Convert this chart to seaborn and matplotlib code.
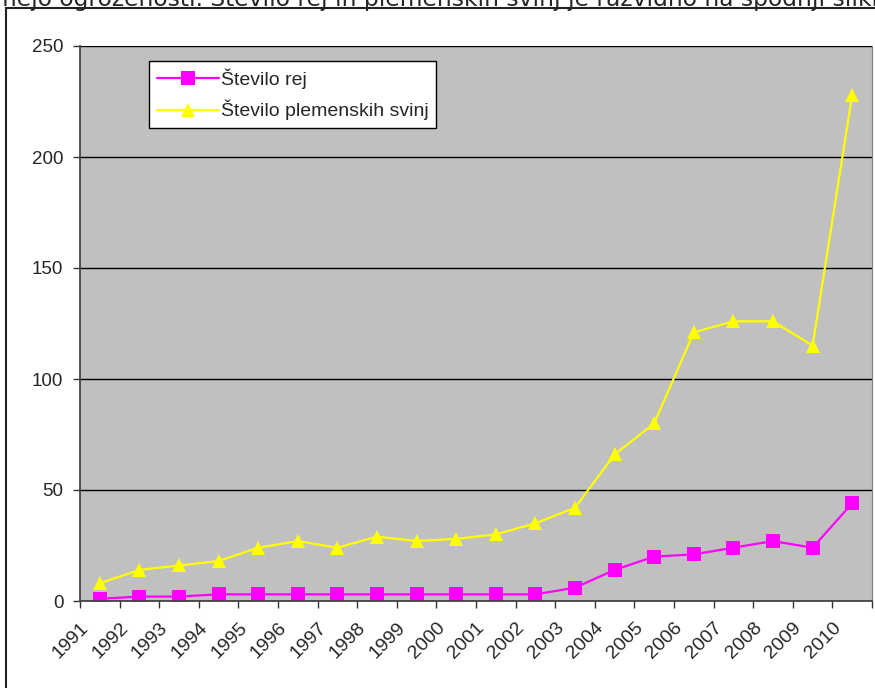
import numpy as np
import pandas as pd
import matplotlib
matplotlib.use("Agg")
import matplotlib.pyplot as plt
import seaborn as sns
from matplotlib.patches import Rectangle

years = list(range(1991, 2011))
rej = [1, 2, 2, 3, 3, 3, 3, 3, 3, 3, 3, 3, 6, 14, 20, 21, 24, 27, 24, 44]
svinje = [8, 14, 16, 18, 24, 27, 24, 29, 27, 28, 30, 35, 42, 66, 80, 121, 126, 126, 115, 228]
series_names = ["Število rej", "Število plemenskih svinj"]
y_ticks = [0, 50, 100, 150, 200, 250]

# points sit in the middle of each category, labels at the left tick
df = pd.DataFrame({
    "leto": np.array(years * 2) + 0.5,
    "vrednost": rej + svinje,
    "serija": [series_names[0]] * len(years) + [series_names[1]] * len(years),
})

sns.set_style("white")
plt.rcParams["font.family"] = ["Liberation Sans", "DejaVu Sans"]

fig = plt.figure(figsize=(8.75, 6.88), dpi=100)
ax = fig.add_axes([80 / 875, 1 - 601 / 688, 792 / 875, 555 / 688])
ax.set_facecolor("#c0c0c0")

sns.lineplot(data=df, x="leto", y="vrednost", hue="serija", style="serija",
             palette=["#ff00ff", "#ffff00"], markers=["s", "^"], dashes=False,
             markersize=10.5, markeredgewidth=0, linewidth=1.6, ax=ax)

ax.set_xlim(years[0], years[-1] + 1)
ax.set_ylim(0, 250)
ax.set_yticks(y_ticks)
ax.set_yticklabels([str(v) for v in y_ticks], fontsize=13.5)
ax.set_xticks(years + [years[-1] + 1])
ax.set_xticklabels([str(y) for y in years] + [""], rotation=45, ha="right",
                   rotation_mode="anchor", fontsize=14)
ax.tick_params(axis="x", direction="out", length=5, width=1, color="#333333", bottom=True, pad=8)
ax.tick_params(axis="y", direction="out", length=5, width=1, color="#333333", left=True, pad=7)
ax.yaxis.grid(True, color="black", linewidth=1)
ax.set_axisbelow(True)
ax.set_xlabel("")
ax.set_ylabel("")
for side in ["left", "bottom"]:
    ax.spines[side].set_color("#444444")
    ax.spines[side].set_linewidth(1.3)
ax.spines["right"].set_color("#808080")
ax.spines["top"].set_visible(False)

leg = ax.legend(loc="upper left", bbox_to_anchor=(69 / 792, 1 - 15 / 555),
                fontsize=14, frameon=True, fancybox=False, framealpha=1,
                edgecolor="black", borderpad=0.4, handlelength=3.2,
                handletextpad=0.1, labelspacing=0.55, borderaxespad=0)
leg.get_frame().set_linewidth(1)

# outer chart border and the cropped line of text above it
fig.patches.append(Rectangle((6 / 875, -0.1), 1.2, 1 - 8 / 688 + 0.1,
                             transform=fig.transFigure, fill=False,
                             edgecolor="#222222", linewidth=1.5))
fig.text(-6 / 875, 1 - 6 / 688, "mejo ogroženosti. Število rej in plemenskih svinj je razvidno na spodnji sliki",
         fontsize=16.8, family=["DejaVu Sans"], va="baseline", ha="left")

fig.savefig("out.png", dpi=100)
